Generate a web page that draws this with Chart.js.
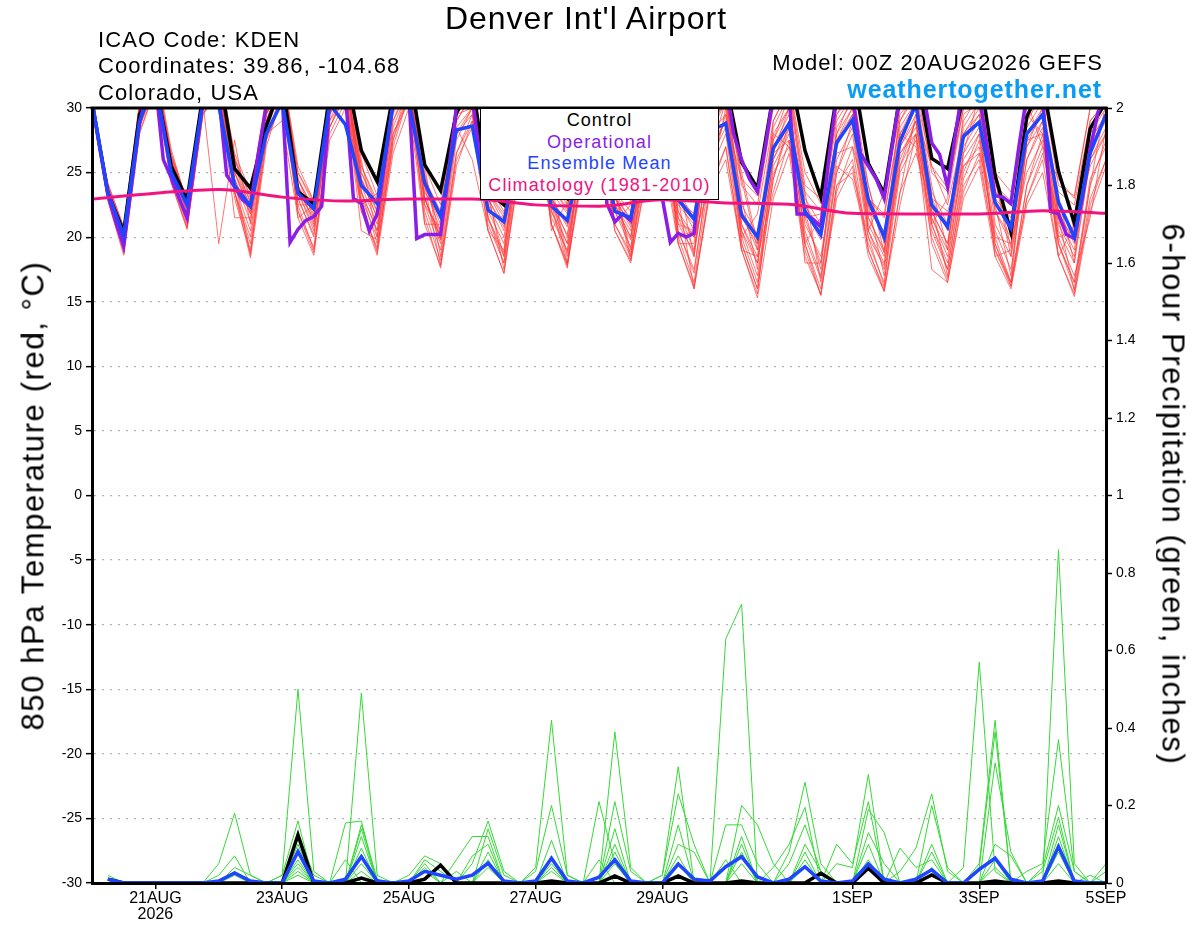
<!DOCTYPE html>
<html>
<head>
<meta charset="utf-8">
<title>Denver Int'l Airport</title>
<script src="https://cdn.jsdelivr.net/npm/chart.js@4.4.1/dist/chart.umd.min.js"></script>
<style>
  html, body { margin: 0; padding: 0; background: #fff; }
  #wrap { position: relative; width: 1200px; height: 927px; overflow: hidden; font-family: "Liberation Sans", Arial, sans-serif; color: #000; }
  #myChart { position: absolute; left: 0; top: 0; }
  .txt { position: absolute; white-space: nowrap; line-height: 1; }
  .title { left: 286px; width: 600px; top: 2px; text-align: center; font-size: 32px; letter-spacing: 1px; }
  .info { left: 98px; font-size: 22px; letter-spacing: 1.1px; }
  .model { right: 97px; top: 52px; font-size: 22px; letter-spacing: 1.1px; }
  .site { right: 98px; top: 77px; font-size: 25px; font-weight: bold; color: #0a9cf5; letter-spacing: 0.9px; }
  .axis { width: 700px; text-align: center; font-size: 31px; letter-spacing: 1.6px; }
  #legend { position: absolute; left: 480px; top: 108px; width: 239px; height: 92px; box-sizing: border-box;
            border: 1px solid #000; background: #fff; text-align: center; font-size: 18px;
            letter-spacing: 1.1px; line-height: 21.6px; padding-top: 1px; }
</style>
</head>
<body>
<div id="wrap">
  <canvas id="myChart" width="1200" height="927"></canvas>
  <div class="txt title">Denver Int'l Airport</div>
  <div class="txt info" style="top:29px">ICAO Code: KDEN</div>
  <div class="txt info" style="top:55px">Coordinates: 39.86, -104.68</div>
  <div class="txt info" style="top:82px">Colorado, USA</div>
  <div class="txt model">Model: 00Z 20AUG2026 GEFS</div>
  <div class="txt site">weathertogether.net</div>
  <div class="txt axis" style="left:-317px; top:480px; transform: rotate(-90deg);">850 hPa Temperature (red, °C)</div>
  <div class="txt axis" style="left:823px; top:479px; transform: rotate(90deg);">6-hour Precipitation (green, inches)</div>
  <div id="legend">
    <div style="color:#000">Control</div>
    <div style="color:#8a1ee6">Operational</div>
    <div style="color:#1f45ff">Ensemble Mean</div>
    <div style="color:#f0147f">Climatology (1981-2010)</div>
  </div>
</div>
<script>
// x axis runs in 6-hour steps from 00Z 20AUG (step 0) to 00Z 5SEP (step 64)
const dateTicks = [4, 12, 20, 28, 36, 48, 56, 64];
const dateLabels = [["21AUG", "2026"], "23AUG", "25AUG", "27AUG", "29AUG", "1SEP", "3SEP", "5SEP"];

// 850 hPa temperature, 6-hourly (4 values per day + final 00Z)
const controlTemp = [
  30.5, 23.4, 20.4, 29.5,  32, 25.5, 22.9, 31,  33, 25.3, 23.8, 28.6,  32, 23.5, 22.6, 31,
  33, 26.7, 24.3, 31,  33, 25.6, 23.6, 29.6,  32, 23.5, 22.5, 29,  32, 24, 23.0, 29,
  32, 24.5, 23.2, 29,  31, 24, 23.2, 30,  32, 25.8, 23.8, 31,  33, 26.7, 23.1, 31,
  33, 25.7, 23.4, 31,  33, 26.1, 25.3, 31,  33, 24.8, 20.4, 29.3,  32, 25.1, 21.1, 28.4,
  30.5
];
const meanTemp = [
  30.5, 23.5, 20.1, 29,  32, 25, 22.5, 30.5,  30.2, 24, 22.4, 28,  30.5, 23.4, 22.2, 30.3,
  28.7, 24, 22.6, 30.2,  30.5, 24.2, 21.6, 28.3,  28.6, 22.1, 21.2, 27,  28.5, 22.4, 21.3, 27,
  28.5, 22, 21.5, 27,  28.5, 22.9, 21.4, 28.2,  28.8, 21.7, 20, 26.9,  28.8, 22, 20.2, 27.3,
  29.1, 22.9, 20, 27.4,  30.3, 22.5, 20.8, 27.8,  28.9, 22.7, 20.7, 28,  29.5, 22.7, 20, 26.5,
  29.5
];
// operational run is 3-hourly (8 values per day + final 00Z)
const opTemp = [
  30.5, 26.8, 23.3, 21.2, 19.3, 24, 28.8, 31.5,
  32, 26.0, 24.6, 23.0, 21.5, 26, 30.5, 32,
  31, 24.8, 23.9, 22.9, 22.4, 26.5, 30.2, 32,
  31, 19.6, 20.6, 21.3, 21.6, 22.4, 30.5, 32,
  31, 23, 22.6, 20.5, 21.8, 26, 30.5, 32,
  31, 19.9, 20.2, 20.2, 20.2, 25, 30, 32,
  31, 26, 24, 23.2, 23.5, 25, 28, 31,
  31, 27, 25, 24, 23.5, 25, 28, 31,
  31, 22.6, 21.2, 21.8, 21.3, 25, 29, 31,
  23.0, 19.6, 20.3, 20.0, 20.3, 27, 31, 32,
  32, 28, 26, 24.5, 23.5, 27, 31, 33,
  31, 21.8, 21.8, 21.4, 20.8, 26, 31, 33,
  31, 26.5, 25.5, 24.5, 23.0, 27, 31, 33,
  31.5, 31, 27.3, 26.4, 23.9, 28, 32, 33,
  31, 27, 23.2, 23.1, 22.6, 27, 31, 33,
  31, 22.0, 21.8, 20.2, 19.9, 23, 26.8, 29.7,
  31
];
// 1981-2010 climatology, one value per day at 00Z
const climTemp = [22.95, 23.4, 23.7, 23.1, 22.8, 22.95, 22.95, 22.5, 22.4, 22.9, 22.65, 22.55, 21.85, 21.8, 21.8, 22.05, 21.85];

const memberTemp = [
  [30.5,23.8,20.6,30.2, 33,26.5,22.8,31.5, 33,26,23.2,30.5, 33,25,22.8,31, 33,22.5,23.4,31.5, 33,25.5,22.5,30.5, 32,24,22.6,30, 32,24.5,22.8,29.5, 31.5,21,22.5,30, 32,24,22.8,30, 32,24.5,23.2,30.5, 32,25,22.6,30, 32,20.5,23.5,29.5, 31,25.5,23.8,30, 32,25,23.5,30.5, 27,24.5,23,30, 31],
  [30.2,22.8,18.6,28, 31.5,24.5,20.8,29.5, 31,23.5,18.4,27, 31,22,18.8,28, 30.5,22.5,19,27.5, 31,24,17.8,26, 28.5,20.5,17.2,25.5, 29,21,17.8,25, 28.5,20.5,18.2,24.5, 29.5,23,16,23.5, 26,19,15.3,23, 26.5,18.5,15.6,23, 25.5,18.5,15.8,22.5, 28,17.5,16.5,23, 25.5,18.5,16,22.5, 25,18.5,15.4,22, 25.5],
  [30.6,23.5,19.5,29.5, 32.5,25.5,21.8,30.5, 19.5,27.5,21,29, 32,23.5,20.5,30, 32,24.5,21.5,30, 32,23,19.5,28.5, 26,20.5,19,28, 31,23,20,27.5, 30,22,19.8,28, 30.5,21.5,18.5,27, 29,24.5,19,26.5, 30,21.5,18,27, 29.5,21,18.5,26.5, 28.5,22,19.5,27, 29,18.5,19,27, 29,21,18.5,26, 28],
  [30.4,24.2,20.8,30.5, 33.5,26.8,22.6,31.5, 33,26.5,23.5,30.5, 32.5,21.5,22.5,31, 32,25,22,30.5, 33,24.5,21.8,30, 31.5,23.5,21,29.5, 32,20.5,22.8,29, 32,23.5,21.2,29.5, 31,23,20.5,29, 31.5,22.5,20.2,28.5, 31,19.5,21.5,29.5, 31.5,22.5,20,28, 30.5,23.5,21,29, 31,23,21.5,29, 31,25.5,20.5,28.5, 30.5],
  [30.8,23,19,28.5, 32,25,21.2,30, 32,21.5,21.5,29.5, 33,24,21.2,29.5, 31.5,23.5,20.5,29, 32,22.5,20.5,29.5, 30,21.5,18.5,27.5, 30.5,22,18.8,27, 29.5,23.5,18.2,27.5, 29,20.5,17.2,26, 28.5,20,16.5,25.5, 28,20.5,17,25.5, 24.5,19.5,16.5,25, 27.5,20.5,17.5,25.5, 27,20,19.5,25, 27.5,19.5,16.5,24.5, 27],
  [30.3,23.9,20.2,29.8, 33,26,22.2,31, 32.5,25.5,22.8,30.5, 32,24,21.8,30, 33,26,20,31, 32.5,24,21,30.5, 31,23,20.5,28.5, 31.5,23,21,29, 31,22.5,20.5,29, 31,19.5,19.5,28, 30.5,22,19,28, 30,22,17.5,28.5, 30.5,21.5,19,27, 29.5,25.5,22.5,28, 30,22,20,28.5, 30.5,22,19.5,27.5, 29.5],
  [30.5,23.3,19.8,29, 32.5,25.3,21.5,30.5, 32,23.5,19,27.5, 31.5,23,20,29.5, 32.5,23.5,19.5,28, 31,25.5,18.5,27.5, 30,22,19.5,27, 30,24,18.5,26.5, 31,22.5,20,27, 29.5,22,19,26.5, 30.5,19.5,16,24.5, 29,21,18.5,26.5, 27,22.5,17,25.5, 29,21.5,18.5,26, 28,19.5,16.5,24, 28,20,17,21.5, 28.5],
  [30.7,23.6,20,29.5, 32,25.8,22.5,31, 33,25,22,29.5, 32.5,24.5,22.2,30.5, 32,25.5,22.5,30, 32.5,23.5,21.5,29.5, 31,23,18.5,29.5, 31.5,23.5,21.8,29.5, 30.5,23,21,28.5, 30,22.5,21,28.5, 30.5,25,19.5,27.5, 31,22.5,20.5,28, 30,22,20.5,28.5, 30.5,23,22,25.5, 26.5,22.5,21,28, 29.5,21.5,20,28, 30],
  [30.4,23,19.2,28.8, 32,24.8,21,30, 32,24,20.5,28.5, 31.5,22.5,22.5,28.5, 31,23,20,28.5, 31.5,22.5,19,28, 29.5,21,18,27, 30,21.5,19,27.5, 30.5,22,21.5,27.5, 28,20.5,17.5,25.5, 29.5,21,18,26, 28.5,23.5,16.5,25, 29,20.5,17.5,26.5, 28,21,18,26.5, 28.5,20.5,17.5,26, 28.5,20,20.5,25.5, 28],
  [30.6,24,20.5,30, 33,26.2,22.4,31.5, 33.5,26.2,23,31, 33,25.5,22.8,31.5, 33.5,26.5,23.2,31.5, 33,25,19.8,31, 32.5,24.5,22.8,30.5, 32.5,24.5,22.5,30, 32,24,22.8,30.5, 32.5,24.5,18.5,30.5, 32,24,22.5,30, 32,24,23,30.5, 31.5,24,18.8,30, 32,25,23.5,30.5, 31.5,24.5,19.2,30, 31.5,24,23.2,30, 31],
  [30.2,23.4,19.6,29.2, 32.5,25,21.5,30, 31.5,23.5,19.5,28, 29,21.5,18.6,27.5, 30,22,19.2,27, 31,21.5,17.6,25.5, 29,23.5,17.5,26, 29.5,21,18,25.5, 29,21,18.5,25.5, 26.5,19.5,16.2,23.5, 27,19,18.5,23.5, 27.5,19.5,16,24, 26,19,16,23.5, 26.5,22.5,17,24, 26,19,16.5,23, 26.5,21.5,15.8,23, 26],
  [30.5,23.7,20.4,29.6, 32.5,25.6,22,30.5, 32.5,25,21.8,29.5, 32,24.5,21.5,30.5, 32.5,24.5,21.5,30, 32,24,20.5,29, 31,22.5,20,28, 30.5,22.5,17.8,28.5, 30.5,22.5,20,28, 30,21.5,20,24, 30,21,18.5,27, 29.5,21.5,21.8,27.5, 30,21.5,18.8,27, 29,22,19.5,27.5, 29.5,24.5,18.5,27, 30,21.5,19,27, 29.5],
  [30.3,23.1,19.4,28.6, 31.5,24.2,20.7,29.5, 32,24.5,18.6,29, 31,22.5,19,28.5, 31.5,22.5,18.8,27.5, 32,23,20,28.5, 30,21.5,18,26.5, 29.5,21,17.6,26, 30,24,18.5,26.5, 29,20,16.5,25, 28,19.5,16,24.5, 28.5,20,16.8,25, 28,20,16.2,28, 27,20,16.8,24.5, 27.5,19.5,16.2,24, 27,19.5,16,24, 30.5],
  [30.6,23.8,20.8,30, 33,26.3,22.9,31.5, 33,26,22.6,30, 33,24.5,22,30.5, 32.5,25,22.5,30.5, 32.5,24.5,22,30, 32,24,22,25.5, 32,24,22.2,29.5, 31.5,23.5,22,29.5, 31.5,23.5,21.5,29.5, 31,23,17.5,29, 31.5,23,21,29, 31,23,21.5,29, 31,24,19,29.5, 30.5,23.5,22.5,29.5, 30.5,23,18,29, 30.5],
  [30.5,23.2,19.2,28.9, 32,25.2,21.3,30.5, 31,23.5,20,28, 32,23,20.2,29, 31,20.5,19.8,28, 30.5,22,18.2,26.5, 29.5,21.5,18.8,27, 30,22,19.5,26.5, 29,21,18.8,26, 28.5,21,20.5,26.5, 29,20.5,17,25, 27,19.5,15.5,24, 25,20,17.8,25.5, 28,21,17.5,25, 28,20,16.5,27.5, 28,19.5,16.5,24, 27.5],
  [30.4,23.5,20.1,29.4, 32.5,25.7,22.3,31, 32.5,25,22.5,30, 32.5,24,21,29.5, 32,24,21,29.5, 32.5,21,21,29.5, 31.5,23,20.8,29, 31,23,20.8,28.5, 31.5,23,20.8,25, 30,22,20,28, 31,22,20,28, 27,22.5,20,28, 31,22.5,20,28, 30,22.5,21,28.5, 30.5,22.5,17,28, 30,22,20.5,27.5, 29.5],
  [30.7,22.9,18.8,28.2, 31.5,24.2,20.6,29.5, 31.5,23,18.8,27.5, 30.5,22,19.2,28.5, 31,22,18.6,26.5, 30,21,17.8,26.5, 29,20.5,17.2,25.5, 29.5,23.5,18,25.5, 28.5,20.5,18,25, 28,19.5,16,24, 27,19,15.6,26.5, 27.5,19,15.5,23.5, 27,19,15.8,23.5, 29.5,19.5,16.5,23.5, 26.5,19,16.2,23, 26,18.5,15.6,22.5, 26],
  [30.5,23.6,20.3,29.7, 33,26,22.7,31.5, 32,24.5,21.2,29, 32.5,23.5,21.5,30, 32.5,24.5,22,30.5, 31.5,23,20,29, 31,23.5,21.5,29, 31,22.5,20.2,28, 31,23,21.5,28.5, 30.5,20,20.5,28, 29.5,21.5,19.5,27.5, 30,22,19.8,27.5, 29.5,24,19.5,27.5, 30,23,20.5,28, 29.5,22,19.5,27.5, 29.5,18.5,21,27, 29],
  [30.3,23.3,19.9,29.1, 32.5,25.4,21.9,30.5, 32,24.5,21.8,29.5, 31.5,23.5,20.8,29, 32,23.5,20.5,29, 31.5,23,19.8,28, 30,22,21.5,27.5, 31,22.5,19.5,27, 30,22,19.2,27, 29.5,21,18.8,26.5, 29,20.5,18,26, 29,18,18,26, 28.5,20.5,18,26, 29,21.5,19,26.5, 31,21,18.5,26, 29,20.5,18,26, 28.5],
  [30.6,24.1,20.7,30.3, 33,26.4,22.5,31, 33,25.5,22.2,30, 32.5,25,22.5,30.5, 33,25.5,22.8,31, 32,24,21.5,30, 32,23.5,21.8,29.5, 32,24,22,29.5, 31.5,23.5,19,29, 31.5,23,21.8,29.5, 31.5,20,21.8,29, 31.5,23.5,22,29.5, 31,23,21.8,29, 31.5,21,23,30, 31,24,22.8,29.5, 28,23.5,22.5,29, 30.5]
];

// 6-hour precipitation (inches); first period has no accumulation
const controlRain = [
  null, 0.01, 0, 0,  0, 0, 0, 0,  0, 0, 0, 0,  0, 0.124, 0, 0,
  0, 0.013, 0, 0,  0, 0.01, 0.046, 0,  0, 0, 0, 0,  0, 0.005, 0, 0,
  0, 0.018, 0, 0,  0, 0.018, 0, 0,  0, 0.005, 0, 0,  0, 0, 0.025, 0,
  0, 0.038, 0, 0,  0, 0.021, 0, 0,  0, 0.005, 0, 0,  0, 0.005, 0, 0,
  0
];
const meanRain = [
  null, 0.01, 0, 0,  0, 0, 0, 0,  0.005, 0.026, 0.005, 0,  0, 0.081, 0.005, 0,
  0.01, 0.068, 0.005, 0,  0.005, 0.03, 0.02, 0.01,  0.02, 0.051, 0.005, 0,  0.005, 0.064, 0.005, 0,
  0.015, 0.06, 0.005, 0,  0, 0.049, 0.01, 0.005,  0.042, 0.068, 0.016, 0,  0.01, 0.042, 0.005, 0,
  0.005, 0.049, 0.01, 0,  0.01, 0.034, 0, 0,  0.035, 0.064, 0.01, 0,  0.005, 0.094, 0.005, 0,
  0
];
// members only rain in a few periods: step -> inches, every other step is dry
const memberRain = [
  {1: 0.02, 13: 0.03, 21: 0.05, 29: 0.07, 37: 0.15, 44: 0.05, 45: 0.15, 46: 0.03, 55: 0.04, 56: 0.57, 57: 0.03},
  {9: 0.02, 17: 0.14, 28: 0.04, 29: 0.42, 30: 0.02, 41: 0.12, 53: 0.20, 54: 0.04},
  {13: 0.13, 14: 0.02, 16: 0.06, 23: 0.03, 32: 0.21, 33: 0.05, 45: 0.06, 57: 0.10, 58: 0.07},
  {8: 0.05, 9: 0.18, 10: 0.02, 25: 0.08, 40: 0.63, 41: 0.72, 53: 0.04, 61: 0.15},
  {13: 0.06, 17: 0.49, 18: 0.02, 33: 0.10, 47: 0.10, 48: 0.05, 49: 0.21, 64: 0.03},
  {1: 0.01, 20: 0.02, 21: 0.07, 22: 0.05, 29: 0.05, 40: 0.15, 41: 0.15, 42: 0.05, 53: 0.08, 61: 0.08},
  {12: 0.02, 13: 0.50, 14: 0.03, 17: 0.07, 25: 0.06, 41: 0.08, 49: 0.10, 59: 0.03, 60: 0.05, 61: 0.37, 62: 0.03},
  {8: 0.02, 9: 0.07, 21: 0.03, 33: 0.21, 34: 0.03, 45: 0.10, 46: 0.03, 57: 0.31, 58: 0.08},
  {13: 0.04, 17: 0.12, 29: 0.03, 36: 0.02, 37: 0.30, 49: 0.04, 57: 0.04, 63: 0.02},
  {1: 0.01, 17: 0.03, 24: 0.05, 25: 0.16, 26: 0.03, 40: 0.06, 49: 0.19, 50: 0.13, 61: 0.12},
  {12: 0.02, 13: 0.16, 29: 0.11, 33: 0.05, 41: 0.05, 51: 0.09, 52: 0.04, 53: 0.06, 64: 0.05},
  {13: 0.10, 16: 0.155, 17: 0.16, 25: 0.04, 37: 0.10, 38: 0.08, 49: 0.06, 56: 0.05, 57: 0.42},
  {9: 0.04, 10: 0.02, 21: 0.06, 22: 0.03, 33: 0.14, 44: 0.08, 45: 0.26, 46: 0.05, 61: 0.10},
  {17: 0.15, 18: 0.01, 29: 0.06, 37: 0.07, 47: 0.05, 48: 0.04, 49: 0.28, 60: 0.03, 61: 0.17},
  {13: 0.08, 24: 0.07, 25: 0.10, 32: 0.06, 41: 0.20, 42: 0.15, 43: 0.05, 53: 0.10},
  {9: 0.03, 23: 0.06, 24: 0.12, 25: 0.12, 33: 0.08, 45: 0.04, 57: 0.06, 61: 0.86, 62: 0.05},
  {17: 0.09, 29: 0.04, 36: 0.02, 37: 0.23, 38: 0.10, 49: 0.13, 50: 0.05, 61: 0.05},
  {13: 0.05, 25: 0.14, 26: 0.02, 37: 0.05, 43: 0.04, 44: 0.10, 45: 0.195, 60: 0.04, 61: 0.20, 62: 0.03},
  {17: 0.05, 28: 0.03, 29: 0.20, 30: 0.02, 41: 0.10, 51: 0.03, 52: 0.09, 53: 0.23, 54: 0.03},
  {13: 0.02, 21: 0.04, 33: 0.39, 34: 0.04, 45: 0.08, 56: 0.04, 57: 0.39}
];

// values -> {x: step, y} ; stepSize converts the array index into 6-hour steps
const toPoints = (values, stepSize) => values.map((v, i) => ({ x: i * stepSize, y: v }));
const rainSeries = (spikes) => controlTemp.map((_, i) => (i === 0 ? null : spikes[i] || 0));

const lineDs = (data, axis, color, width, order, extra) =>
  Object.assign({ data, yAxisID: axis, borderColor: color, borderWidth: width, order,
    pointRadius: 0, fill: false, tension: 0 }, extra || {});

const datasets = [];
datasets.push(lineDs(toPoints(climTemp, 4), "y", "#f0147f", 3, 0, { cubicInterpolationMode: "monotone" }));
datasets.push(lineDs(toPoints(meanTemp, 1), "y", "#1f45ff", 3.5, 1));
datasets.push(lineDs(toPoints(meanRain, 1), "y2", "#1f45ff", 3.5, 1));
datasets.push(lineDs(toPoints(opTemp, 0.5), "y", "#8a1ee6", 3.5, 2));
datasets.push(lineDs(toPoints(controlTemp, 1), "y", "#000000", 3.5, 3));
datasets.push(lineDs(toPoints(controlRain, 1), "y2", "#000000", 3.5, 3));
memberRain.forEach((m) => datasets.push(lineDs(toPoints(rainSeries(m), 1), "y2", "#36d936", 1, 4)));
memberTemp.forEach((m) => datasets.push(lineDs(toPoints(m, 1), "y", "rgba(255,60,60,0.7)", 1, 5)));

const tickFont = { family: "'Liberation Sans', Arial, sans-serif", size: 14 };

// thick frame line along the top of the plot
const frameTop = {
  id: "frameTop",
  afterDatasetsDraw(chart) {
    const { ctx, chartArea: a } = chart;
    ctx.save();
    ctx.strokeStyle = "#000";
    ctx.lineWidth = 3;
    ctx.beginPath();
    ctx.moveTo(a.left - 1.5, a.top);
    ctx.lineTo(a.right + 1.5, a.top);
    ctx.stroke();
    ctx.restore();
  },
};

new Chart(document.getElementById("myChart"), {
  type: "line",
  data: { datasets },
  plugins: [frameTop],
  options: {
    responsive: false,
    animation: false,
    devicePixelRatio: 1,
    parsing: false,
    layout: { padding: { top: 108, left: 0, right: 0, bottom: 0 } },
    plugins: { legend: { display: false }, tooltip: { enabled: false } },
    scales: {
      x: {
        type: "linear",
        min: 0,
        max: 64,
        afterBuildTicks: (scale) => { scale.ticks = dateTicks.map((v) => ({ value: v })); },
        afterFit: (scale) => { scale.height = 44; },
        ticks: {
          autoSkip: false,
          maxRotation: 0,
          padding: 2,
          color: "#000",
          font: { family: tickFont.family, size: 16, lineHeight: 1.0 },
          callback: (v) => dateLabels[dateTicks.indexOf(v)],
        },
        grid: { drawOnChartArea: false, color: "#000", tickLength: 6, lineWidth: 1.5 },
        border: { color: "#000", width: 3, z: 1 },
      },
      y: {
        position: "left",
        min: -30,
        max: 30,
        afterFit: (scale) => { scale.width = 92; },
        ticks: { stepSize: 5, padding: 4, color: "#000", font: tickFont },
        grid: { color: "#b4b4b4", lineWidth: 1.3, tickColor: "#000", tickWidth: 1.5, tickLength: 6 },
        border: { color: "#000", width: 3, dash: [2, 6], z: 1 },
      },
      y2: {
        position: "right",
        min: 0,
        max: 2,
        afterFit: (scale) => { scale.width = 94; },
        ticks: { stepSize: 0.2, padding: 4, color: "#000", font: tickFont,
                 callback: (v) => String(+v.toFixed(1)) },
        grid: { drawOnChartArea: false, tickColor: "#000", tickWidth: 1.5, tickLength: 6 },
        border: { color: "#000", width: 3, z: 1 },
      },
    },
  },
});
</script>
</body>
</html>
